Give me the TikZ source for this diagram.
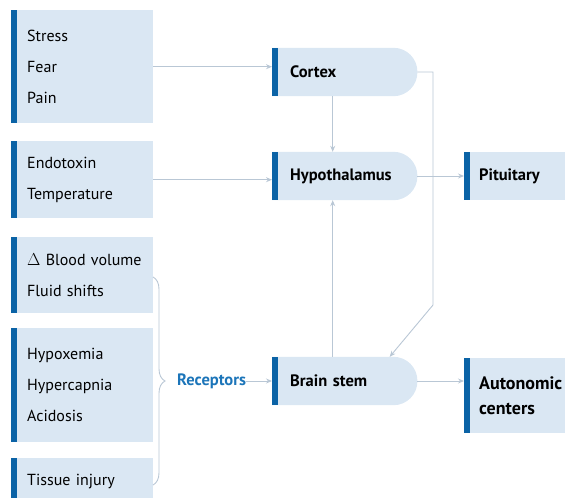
\documentclass[tikz,border=0pt]{standalone}
\usepackage{fontspec}
\setmainfont{PT Sans}
\usetikzlibrary{arrows.meta,positioning,decorations.pathreplacing,backgrounds}
\definecolor{boxfill}{HTML}{DAE7F3}
\definecolor{barblue}{HTML}{0B63A6}
\definecolor{linegray}{HTML}{B9C7D5}
\definecolor{recblue}{HTML}{1C75B9}
\begin{document}
\begin{tikzpicture}[x=1pt, y=-1pt, font=\fontsize{16}{31}\selectfont,
    bar/.style = {path picture={\fill[barblue] (path picture bounding box.north west) rectangle ([xshift=6pt]path picture bounding box.south west);}},
    cause/.style = {bar, fill=boxfill, anchor=north west, text width=110pt, inner xsep=16pt, align=left},
    main/.style = {anchor=west, minimum height=48pt, text width=109pt, inner xsep=18pt, align=left, font=\fontsize{16.5}{19}\selectfont\bfseries},
    target/.style = {bar, fill=boxfill, anchor=north west, text width=90pt, inner xsep=15pt, align=left, font=\fontsize{16.5}{19}\selectfont\bfseries},
    link/.style = {draw=linegray, line width=0.9pt, -{Stealth[length=6pt, width=5pt]}}]
    \useasboundingbox (0,0) rectangle (565,498);
    % causes on the left
    \node[cause, minimum height=113pt] (pain) at (11,10) {Stress\\Fear\\Pain};
    \node[cause, minimum height=77pt] (temp) at (11,141) {Endotoxin\\Temperature};
    \node[cause, minimum height=76pt] (blood) at (11,237) {\mbox{$\Delta$ Blood volume}\\Fluid shifts};
    \node[cause, minimum height=114pt] (gas) at (11,328) {Hypoxemia\\Hypercapnia\\Acidosis};
    \node[cause, minimum height=46pt] (injury) at (11,458) {Tissue injury};
    % centres
    \node[main] (cortex) at (272,72) {Cortex};
    \node[main] (hypo) at (272,176) {Hypothalamus};
    \node[main] (stem) at (272,381) {Brain stem};
    \node[target, minimum height=48pt] (pit) at (464,152) {Pituitary};
    \node[target, minimum height=75pt, font=\fontsize{18}{25}\selectfont\bfseries] (auto) at (464,358) {Autonomic\\centers};
    \node[anchor=west, inner sep=0pt, text=recblue, font=\fontsize{16.5}{19}\selectfont\bfseries] (rec) at (177,381) {Receptors};
    % rounded backs of the centres
    \begin{scope}[on background layer]
        \foreach \n in {cortex,hypo,stem} {
            \fill[boxfill] (\n.south west) -- (\n.north west) [rounded corners=23.9pt] -- (\n.north east) -- (\n.south east) [sharp corners] -- cycle;
            \fill[barblue] (\n.north west) rectangle ([xshift=6pt]\n.south west);
        }
    \end{scope}
    % brace
    \coordinate (btop) at (153,277);
    \coordinate (bbot) at (153,485);
    \draw[linegray, line width=0.9pt, decorate, decoration={brace, amplitude=12pt}] (btop) -- (bbot);
    % connectors
    \draw[link] (pain.east) -- (pain.east -| cortex.west);
    \draw[link] (temp.east) -- (temp.east -| hypo.west);
    \draw[link] ([xshift=-12pt]cortex.south) -- ([xshift=-12pt]hypo.north);
    \draw[link] ([xshift=-12pt]stem.north) -- ([xshift=-12pt]hypo.south);
    \draw[link] (cortex.east) -- (433,72) -- (433,305) -- ([xshift=45pt]stem.north);
    \draw[link] (hypo.east) -- (hypo.east -| pit.west);
    \draw[link] (rec.east) -- (stem.west);
    \draw[link] (stem.east) -- (stem.east -| auto.west);
\end{tikzpicture}
\end{document}
